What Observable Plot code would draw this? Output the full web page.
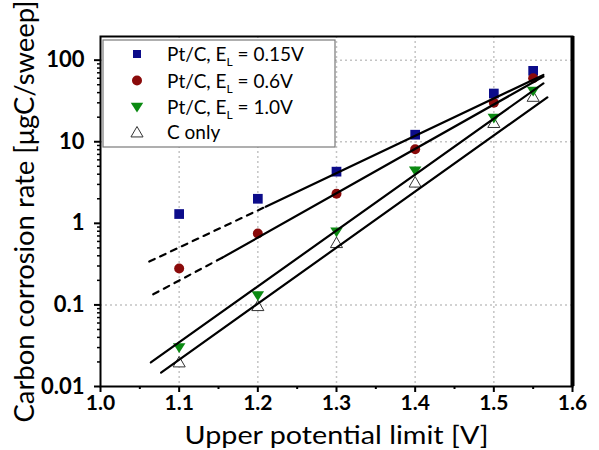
<!DOCTYPE html>
<html>
<head>
<meta charset="utf-8">
<script src="https://cdn.jsdelivr.net/npm/d3@7"></script>
<script src="https://cdn.jsdelivr.net/npm/@observablehq/plot@0.6"></script>
<style>
  html, body { margin: 0; padding: 0; background: white; }
  #chart svg { display: block; }
</style>
</head>
<body>
<div id="chart"></div>
<script>
// ---- data ----
const potentials = [1.1, 1.2, 1.3, 1.4, 1.5, 1.55];           // V
const ptc015 = [1.3, 2.0, 4.3, 12.2, 39, 74];                   // Pt/C, EL=0.15V
const ptc06  = [0.28, 0.75, 2.3, 8.1, 30, 60];                  // Pt/C, EL=0.6V
const ptc10  = [0.030, 0.13, 0.79, 4.4, 19.5, 42];              // Pt/C, EL=1.0V
const cOnly  = [0.020, 0.098, 0.58, 3.2, 17.2, 36];             // C only

// fitted lines (start, break, end) and which segments are dashed
const fit015X = [1.062, 1.21, 1.563], fit015Y = [0.34, 1.6, 66], fit015Dash = [true, false];
const fit06X  = [1.067, 1.155, 1.563], fit06Y = [0.135, 0.38, 63], fit06Dash = [true, false];
const fit10X  = [1.064, 1.563], fit10Y = [0.0197, 52], fit10Dash = [false];
const fitCX   = [1.077, 1.568], fitCY = [0.0148, 35], fitCDash = [false];

const seriesLabels = ["Pt/C, E_L = 0.15V", "Pt/C, E_L = 0.6V", "Pt/C, E_L = 1.0V", "C only"];
const seriesColors = ["#0c0c8a", "#8a0a0a", "#0b8a12", "white"];

const xTicks = [1.0, 1.1, 1.2, 1.3, 1.4, 1.5, 1.6];
const xTickLabels = ["1.0", "1.1", "1.2", "1.3", "1.4", "1.5", "1.6"];
const xMinorTicks = [1.05, 1.15, 1.25, 1.35, 1.45, 1.55];
const yTicks = [0.01, 0.1, 1, 10, 100];
const yTickLabels = ["0.01", "0.1", "1", "10", "100"];
const xGrid = [1.1, 1.2, 1.3, 1.4, 1.5];
const yGrid = [0.1, 10, 100];
const xDomain = [1.0, 1.6];
const yDomain = [0.01, 195];
const xLabel = "Upper potential limit [V]";
const yLabel = "Carbon corrosion rate [μgC/sweep]";

// ---- custom symbols ----
const squareSym = {draw(c, size) { const r = Math.sqrt(size / Math.PI), h = r * 0.9; c.rect(-h, -h, 2 * h, 2 * h); }};
const circleSym = {draw(c, size) { const r = Math.sqrt(size / Math.PI); c.moveTo(r, 0); c.arc(0, 0, r, 0, 2 * Math.PI); }};
const triDownSym = {draw(c, size) { const r = Math.sqrt(size / Math.PI); c.moveTo(-r * 1.25, -r * 0.85); c.lineTo(r * 1.25, -r * 0.85); c.lineTo(0, r * 1.1); c.closePath(); }};
const triUpSym = {draw(c, size) { const r = Math.sqrt(size / Math.PI); c.moveTo(-r * 1.1, r * 0.9); c.lineTo(r * 1.1, r * 0.9); c.lineTo(0, -r * 1.0); c.closePath(); }};
const symbols = [squareSym, circleSym, triDownSym, triUpSym];

const seriesValues = [ptc015, ptc06, ptc10, cOnly];
const points = seriesValues.map((vals, s) => potentials.map((x, i) => ({s, x, y: vals[i]})));

function segments(id, xs, ys, dash) {
  const out = [];
  for (let i = 0; i < xs.length - 1; i++) {
    out.push({id: id + "-" + i, dashed: dash[i], x: xs[i], y: ys[i]});
    out.push({id: id + "-" + i, dashed: dash[i], x: xs[i + 1], y: ys[i + 1]});
  }
  return out;
}
const fitData = [
  ...segments("a", fit015X, fit015Y, fit015Dash),
  ...segments("b", fit06X, fit06Y, fit06Dash),
  ...segments("c", fit10X, fit10Y, fit10Dash),
  ...segments("d", fitCX, fitCY, fitCDash)
];

const yMinor = [];
for (let e = -2; e <= 2; e++) for (let m = 2; m <= 9; m++) { const v = m * Math.pow(10, e); if (v <= yDomain[1]) yMinor.push(v); }

const FONT = "Lato, 'Open Sans', sans-serif";

const plot = Plot.plot({
  width: 599,
  height: 450,
  marginLeft: 100,
  marginRight: 27,
  marginTop: 36,
  marginBottom: 64,
  style: {fontFamily: FONT, background: "white", color: "black"},
  x: {domain: xDomain},
  y: {type: "log", domain: yDomain},
  marks: [
    Plot.ruleX(xGrid, {stroke: "#c4c4c4", strokeWidth: 1.5, strokeDasharray: "2,3"}),
    Plot.ruleY(yGrid, {stroke: "#c4c4c4", strokeWidth: 1.5, strokeDasharray: "2,3"}),
    Plot.dot(points[3], {x: "x", y: "y", symbol: triUpSym, r: 5.5, fill: "white", stroke: "#333", strokeWidth: 1}),
    Plot.dot(points[2], {x: "x", y: "y", symbol: triDownSym, r: 5, fill: seriesColors[2]}),
    Plot.dot(points[0], {x: "x", y: "y", symbol: squareSym, r: 5.4, fill: seriesColors[0]}),
    Plot.dot(points[1], {x: "x", y: "y", symbol: circleSym, r: 5, fill: seriesColors[1]}),
    Plot.line(fitData.filter(d => !d.dashed), {x: "x", y: "y", z: "id", stroke: "black", strokeWidth: 2.2}),
    Plot.line(fitData.filter(d => d.dashed), {x: "x", y: "y", z: "id", stroke: "black", strokeWidth: 2.2, strokeDasharray: "6,6"}),
    Plot.axisX(xMinorTicks, {tickSize: 3, tickFormat: () => "", label: null, strokeWidth: 2}),
    Plot.axisX(xTicks, {tickSize: 6, tickPadding: 3, tickFormat: d => xTickLabels[xTicks.indexOf(d)], fontSize: 21, fontWeight: "bold", label: null, strokeWidth: 2}),
    Plot.axisY(yMinor, {tickSize: 3, tickFormat: () => "", label: null, strokeWidth: 1.5}),
    Plot.axisY(yTicks, {tickSize: 6, tickPadding: 10, tickFormat: d => yTickLabels[yTicks.indexOf(d)], fontSize: 22, fontWeight: "bold", label: null, strokeWidth: 2}),
    Plot.frame({stroke: "black", strokeWidth: 2}),
    Plot.ruleX([xDomain[1]], {stroke: "black", strokeWidth: 4}),
    Plot.text([xLabel], {frameAnchor: "bottom", dy: 49, fontSize: 25, fill: "black", textAnchor: "middle", lineAnchor: "middle", className: "xlabel"}),
    Plot.text([yLabel], {frameAnchor: "left", dx: -75, rotate: -90, fontSize: 26, fill: "black", textAnchor: "middle", lineAnchor: "middle", className: "ylabel"})
  ]
});

document.getElementById("chart").appendChild(plot);

const svg = d3.select(plot);
// stretch axis titles to the reference widths
svg.selectAll(".xlabel text").attr("textLength", 304).attr("lengthAdjust", "spacingAndGlyphs");
svg.selectAll(".ylabel text").attr("textLength", 422).attr("lengthAdjust", "spacingAndGlyphs");

// ---- legend inside plot area ----
const lg = svg.append("g").attr("font-family", FONT).attr("text-anchor", "start");
lg.append("rect").attr("x", 103).attr("y", 40).attr("width", 232).attr("height", 107)
  .attr("fill", "white").attr("stroke", "#7a7a7a").attr("stroke-width", 1.2);
const rowY = [54, 80.5, 107, 132];
seriesLabels.forEach((lab, i) => {
  const path = d3.path();
  symbols[i].draw(path, Math.PI * (i === 3 ? 5.5 : 5) ** 2 * (i === 0 ? 0.8 : 1));
  lg.append("path").attr("d", path.toString())
    .attr("transform", `translate(137,${rowY[i]})`)
    .attr("fill", seriesColors[i])
    .attr("stroke", i === 3 ? "#333" : "none");
  const t = lg.append("text").attr("x", 167).attr("y", rowY[i] + 7).attr("font-size", 19).attr("fill", "black");
  const parts = lab.split("_");
  if (parts.length === 1) {
    t.text(lab);
  } else {
    t.append("tspan").text(parts[0]);
    t.append("tspan").attr("font-size", 12).attr("dy", 5).text(parts[1][0]);
    t.append("tspan").attr("dy", -5).text(parts[1].slice(1));
  }
});
</script>
</body>
</html>
